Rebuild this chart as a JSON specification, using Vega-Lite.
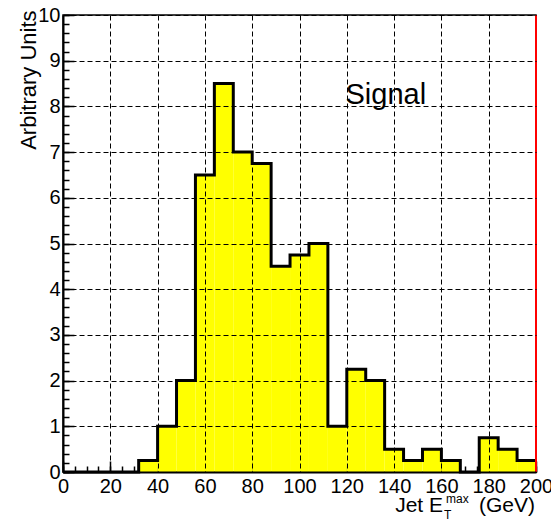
{
  "$schema": "https://vega.github.io/schema/vega-lite/v6.json",
  "width": 473,
  "height": 457,
  "autosize": {"type": "none"},
  "padding": {"left": 63, "top": 15, "right": 15, "bottom": 49},
  "background": "white",
  "config": {
    "view": {"stroke": "black", "strokeWidth": 1.5},
    "font": "Liberation Sans"
  },
  "datasets": {
    "hist": [
      {"start": 0, "end": 8, "v": 0},
      {"start": 8, "end": 16, "v": 0},
      {"start": 16, "end": 24, "v": 0},
      {"start": 24, "end": 32, "v": 0},
      {"start": 32, "end": 40, "v": 0.25},
      {"start": 40, "end": 48, "v": 1},
      {"start": 48, "end": 56, "v": 2},
      {"start": 56, "end": 64, "v": 6.5},
      {"start": 64, "end": 72, "v": 8.5},
      {"start": 72, "end": 80, "v": 7},
      {"start": 80, "end": 88, "v": 6.75},
      {"start": 88, "end": 96, "v": 4.5},
      {"start": 96, "end": 104, "v": 4.75},
      {"start": 104, "end": 112, "v": 5},
      {"start": 112, "end": 120, "v": 1},
      {"start": 120, "end": 128, "v": 2.25},
      {"start": 128, "end": 136, "v": 2},
      {"start": 136, "end": 144, "v": 0.5},
      {"start": 144, "end": 152, "v": 0.25},
      {"start": 152, "end": 160, "v": 0.5},
      {"start": 160, "end": 168, "v": 0.25},
      {"start": 168, "end": 176, "v": 0},
      {"start": 176, "end": 184, "v": 0.75},
      {"start": 184, "end": 192, "v": 0.5},
      {"start": 192, "end": 200, "v": 0.25}
    ]
  },
  "layer": [
    {
      "data": {"name": "hist"},
      "mark": {"type": "bar", "color": "#ffff00", "strokeWidth": 0},
      "encoding": {
        "x": {
          "field": "start", "type": "quantitative",
          "scale": {"domain": [0, 200], "nice": false, "zero": true},
          "axis": {
            "orient": "bottom",
            "values": [0, 20, 40, 60, 80, 100, 120, 140, 160, 180],
            "ticks": false,
            "labelFont": "Liberation Sans", "labelFontSize": 20, "labelColor": "black",
            "labelPadding": 4, "labelFlush": false, "labelOverlap": false,
            "domain": true, "domainColor": "black", "domainWidth": 2,
            "grid": true, "gridColor": "black", "gridDash": [5, 3], "gridWidth": 1, "gridOpacity": 1,
            "title": null, "zindex": 1
          }
        },
        "x2": {"field": "end"},
        "y": {
          "field": "v", "type": "quantitative",
          "scale": {"domain": [0, 10], "nice": false},
          "axis": {
            "orient": "left",
            "values": [0, 1, 2, 3, 4, 5, 6, 7, 8, 9, 10],
            "ticks": false,
            "labelFont": "Liberation Sans", "labelFontSize": 20, "labelColor": "black",
            "labelPadding": 3, "labelFlush": false, "labelOverlap": false,
            "domain": true, "domainColor": "black", "domainWidth": 2,
            "grid": true, "gridColor": "black", "gridDash": [5, 3], "gridWidth": 1, "gridOpacity": 1,
            "title": "Arbitrary Units",
            "titleFont": "Liberation Sans", "titleFontSize": 22, "titleFontWeight": "normal", "titleColor": "black",
            "titleAngle": -90, "titleAlign": "right", "titleBaseline": "alphabetic",
            "titleX": -28, "titleY": -5,
            "zindex": 1
          }
        },
        "y2": {"datum": 0}
      }
    },
    {
      "data": {"name": "hist"},
      "transform": [{"fold": ["start", "end"], "as": ["edge", "xpos"]}],
      "mark": {"type": "line", "color": "black", "strokeWidth": 3, "strokeJoin": "miter"},
      "encoding": {
        "x": {
          "field": "xpos", "type": "quantitative",
          "axis": {
            "orient": "bottom",
            "values": [0, 20, 40, 60, 80, 100, 120, 140, 160, 180, 200],
            "ticks": true, "tickSize": -11, "tickColor": "black", "tickWidth": 1.5,
            "labels": false, "domain": false, "grid": false, "title": null
          }
        },
        "y": {
          "field": "v", "type": "quantitative",
          "axis": {
            "orient": "left",
            "values": [0, 1, 2, 3, 4, 5, 6, 7, 8, 9, 10],
            "ticks": true, "tickSize": -11, "tickColor": "black", "tickWidth": 1.5,
            "labels": false, "domain": false, "grid": false, "title": null
          }
        },
        "order": {"value": null}
      }
    },
    {
      "data": {"values": [{}]},
      "mark": {"type": "text", "text": "Signal", "font": "Liberation Sans", "fontSize": 29, "align": "center", "baseline": "alphabetic", "color": "black"},
      "encoding": {
        "x": {
          "datum": 136.5, "type": "quantitative",
          "axis": {
            "orient": "bottom",
            "values": [0, 5, 10, 15, 20, 25, 30, 35, 40, 45, 50, 55, 60, 65, 70, 75, 80, 85, 90, 95, 100, 105, 110, 115, 120, 125, 130, 135, 140, 145, 150, 155, 160, 165, 170, 175, 180, 185, 190, 195, 200],
            "ticks": true, "tickSize": -6, "tickColor": "black", "tickWidth": 1.5,
            "labels": false, "domain": false, "grid": false, "title": null
          }
        },
        "y": {
          "datum": 8.05, "type": "quantitative",
          "axis": {
            "orient": "left",
            "values": [0, 0.2, 0.4, 0.6, 0.8, 1, 1.2, 1.4, 1.6, 1.8, 2, 2.2, 2.4, 2.6, 2.8, 3, 3.2, 3.4, 3.6, 3.8, 4, 4.2, 4.4, 4.6, 4.8, 5, 5.2, 5.4, 5.6, 5.8, 6, 6.2, 6.4, 6.6, 6.8, 7, 7.2, 7.4, 7.6, 7.8, 8, 8.2, 8.4, 8.6, 8.8, 9, 9.2, 9.4, 9.6, 9.8, 10],
            "ticks": true, "tickSize": -6, "tickColor": "black", "tickWidth": 1.5,
            "labels": false, "domain": false, "grid": false, "title": null
          }
        }
      }
    },
    {
      "data": {"values": [{}]},
      "mark": {"type": "rule", "color": "#ff0000", "strokeWidth": 2},
      "encoding": {
        "x": {
          "datum": 200, "type": "quantitative",
          "axis": {
            "orient": "bottom",
            "values": [200],
            "ticks": false,
            "labelFont": "Liberation Sans", "labelFontSize": 20, "labelColor": "black",
            "labelPadding": 4, "labelFlush": false, "labelOverlap": false,
            "domain": false, "grid": false, "title": null
          }
        }
      }
    },
    {
      "data": {"values": [{}]},
      "mark": {"type": "text", "text": "Jet E", "font": "Liberation Sans", "fontSize": 21, "align": "right", "baseline": "alphabetic", "color": "black", "dx": -93, "dy": 40},
      "encoding": {
        "x": {"datum": 200, "type": "quantitative", "axis": null},
        "y": {"datum": 0, "type": "quantitative", "axis": null}
      }
    },
    {
      "data": {"values": [{}]},
      "mark": {"type": "text", "text": "T", "font": "Liberation Sans", "fontSize": 12, "align": "left", "baseline": "alphabetic", "color": "black", "dx": -92, "dy": 47},
      "encoding": {
        "x": {"datum": 200, "type": "quantitative", "axis": null},
        "y": {"datum": 0, "type": "quantitative", "axis": null}
      }
    },
    {
      "data": {"values": [{}]},
      "mark": {"type": "text", "text": "max", "font": "Liberation Sans", "fontSize": 12, "align": "left", "baseline": "alphabetic", "color": "black", "dx": -90, "dy": 31},
      "encoding": {
        "x": {"datum": 200, "type": "quantitative", "axis": null},
        "y": {"datum": 0, "type": "quantitative", "axis": null}
      }
    },
    {
      "data": {"values": [{}]},
      "mark": {"type": "text", "text": "(GeV)", "font": "Liberation Sans", "fontSize": 21, "align": "right", "baseline": "alphabetic", "color": "black", "dx": -1, "dy": 40},
      "encoding": {
        "x": {"datum": 200, "type": "quantitative", "axis": null},
        "y": {"datum": 0, "type": "quantitative", "axis": null}
      }
    }
  ],
  "resolve": {"axis": {"x": "independent", "y": "independent"}}
}
